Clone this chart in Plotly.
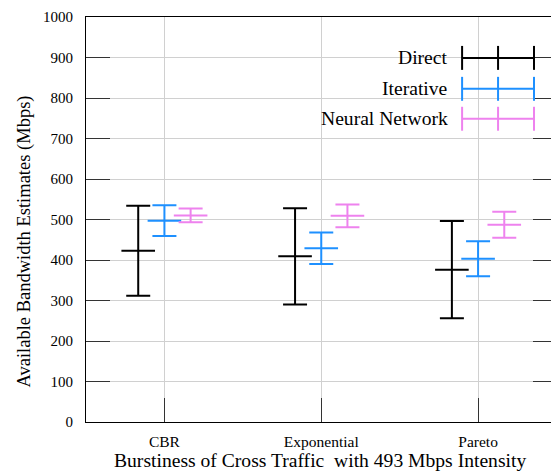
import plotly.graph_objects as go

categories = ["CBR", "Exponential", "Pareto"]
series_names = ["Direct", "Iterative", "Neural Network"]
direct_mean = [423, 409, 376]
direct_err = [111, 119, 120]
iter_mean = [497, 429, 403]
iter_err = [38, 39, 43]
nn_mean = [510, 509, 487]
nn_err = [17, 28, 32]
y_ticks = [0, 100, 200, 300, 400, 500, 600, 700, 800, 900, 1000]

colors = ["#000000", "#1e90ff", "#ee82ee"]
offsets = [-0.167, 0.0, 0.167]
means = [direct_mean, iter_mean, nn_mean]
errs = [direct_err, iter_err, nn_err]

FONT = "'Liberation Serif', 'Times New Roman', serif"
W, H = 551, 475
L, R_, T, B = 85.5, 0, 16.5, 52.5
PW = W - L - R_
PH = H - T - B


def px(x):
    return (x - L) / PW


def py(y):
    return (H - B - y) / PH


fig = go.Figure()
for name, col, off, m, e in zip(series_names, colors, offsets, means, errs):
    xs = [i + 1 + off for i in range(len(categories))]
    fig.add_trace(go.Scatter(
        x=xs, y=m, mode="markers", name=name, showlegend=False,
        marker=dict(symbol="line-ew", size=24, line=dict(color=col, width=2), color=col),
        error_y=dict(type="data", array=e, visible=True, color=col, thickness=2, width=12),
    ))

# invisible trace for right-side mirrored ticks
fig.add_trace(go.Scatter(x=[1], y=[0], yaxis="y2", mode="markers",
                         marker=dict(opacity=0), showlegend=False, hoverinfo="skip"))

shapes = []
annotations = []
# legend box (white background hiding grid)
shapes.append(dict(type="rect", xref="paper", yref="paper",
                   x0=px(284), x1=px(534), y0=py(133), y1=py(41.7),
                   fillcolor="white", line=dict(width=0), layer="between"))
leg_y = [57.5, 88.5, 118.5]
for name, col, yy in zip(series_names, colors, leg_y):
    annotations.append(dict(text=name, xref="paper", yref="paper", x=px(450), y=py(yy),
                            xanchor="right", yanchor="middle", showarrow=False,
                            font=dict(family=FONT, size=19.6, color="#000")))
    shapes.append(dict(type="line", xref="paper", yref="paper", x0=px(462), x1=px(534),
                       y0=py(yy), y1=py(yy), line=dict(color=col, width=2)))
    for xx in (462, 498, 534):
        shapes.append(dict(type="line", xref="paper", yref="paper", x0=px(xx), x1=px(xx),
                           y0=py(yy - 12), y1=py(yy + 12), line=dict(color=col, width=2)))

annotations.append(dict(text="Available Bandwidth Estimates (Mbps)", xref="paper", yref="paper",
                        x=px(24), y=py(242), textangle=-90, xanchor="center", yanchor="middle",
                        showarrow=False, font=dict(family=FONT, size=18.5, color="#000")))
annotations.append(dict(text="Burstiness of Cross Traffic&nbsp;&nbsp;with 493 Mbps Intensity",
                        xref="paper", yref="paper", x=px(320), y=py(461),
                        xanchor="center", yanchor="middle", showarrow=False,
                        font=dict(family=FONT, size=19.6, color="#000")))

fig.update_layout(
    width=W, height=H,
    margin=dict(l=L, r=R_, t=T, b=B, pad=0),
    paper_bgcolor="white", plot_bgcolor="white",
    showlegend=False,
    font=dict(family=FONT),
    shapes=shapes, annotations=annotations,
    xaxis=dict(range=[0.5, 0.5 + PW / 157.0], tickmode="array",
               tickvals=[i + 1 for i in range(len(categories))], ticktext=categories,
               ticks="inside", ticklen=24, tickwidth=1, tickcolor="#333",
               showline=True, linecolor="#000", linewidth=1, mirror=True,
               showgrid=True, gridcolor="#d0d0d0", gridwidth=1, zeroline=False,
               tickfont=dict(family=FONT, size=15.5, color="#000"),
               ticklabelstandoff=5),
    yaxis=dict(range=[0, 1000], tickvals=y_ticks,
               ticks="inside", ticklen=24, tickwidth=1, tickcolor="#333",
               showline=True, linecolor="#000", linewidth=1,
               showgrid=True, gridcolor="#d0d0d0", gridwidth=1, zeroline=False,
               tickfont=dict(family=FONT, size=15, color="#000"),
               ticklabelstandoff=9),
    yaxis2=dict(range=[0, 1000], tickvals=y_ticks, overlaying="y", side="right",
                ticks="inside", ticklen=18, tickwidth=1, tickcolor="#333",
                showticklabels=False, showline=False, showgrid=False, zeroline=False),
)

fig.write_html("out.html")
